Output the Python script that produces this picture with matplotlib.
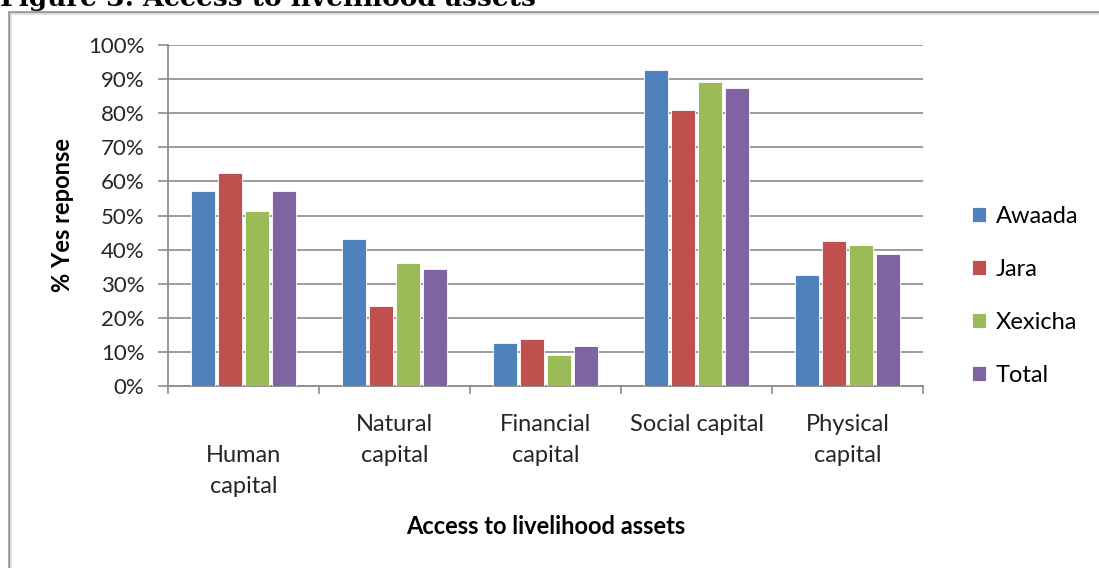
import matplotlib
matplotlib.use("Agg")
import matplotlib.pyplot as plt
import numpy as np
from matplotlib.patches import Rectangle

plt.rcParams['font.family'] = ['Lato', 'DejaVu Sans']

categories = ['\nHuman\ncapital', 'Natural\ncapital', 'Financial\ncapital',
              'Social capital', 'Physical\ncapital']
series = ['Awaada', 'Jara', 'Xexicha', 'Total']
awaada = [57.2, 43.0, 12.7, 92.7, 32.6]
jara = [62.6, 23.5, 13.7, 80.9, 42.6]
xexicha = [51.3, 36.0, 9.1, 89.1, 41.3]
total = [57.2, 34.2, 11.7, 87.3, 38.6]
colors = ['#4F81BD', '#C0504D', '#9BBB59', '#8064A2']

W, H = 1099, 568
fig = plt.figure(figsize=(W / 100, H / 100), dpi=100)

# chart border (top and left edges only show)
x0, y0 = 9 / W, 1 - 12 / H
fig.add_artist(Rectangle((x0, -0.1), 1.2, y0 + 0.1, transform=fig.transFigure,
                         fill=False, edgecolor='#8f8f8f', linewidth=1.8))
fig.add_artist(Rectangle((x0 + 2 / W, -0.1), 1.2, y0 + 0.1 - 2 / H,
                         transform=fig.transFigure, fill=False,
                         edgecolor='#dedede', linewidth=1.5))

fig.text(0.0, 1 - 6 / H, 'Figure 3: Access to livelihood assets',
         family='DejaVu Serif', fontweight='bold', fontsize=19,
         va='baseline', ha='left', color='black')

left, right = 168 / W, 923 / W
bottom, top = 1 - 386 / H, 1 - 45 / H
ax = fig.add_axes([left, bottom, right - left, top - bottom])

x = np.arange(len(categories))
pitch = 0.179
width = 0.163
for i, (name, vals) in enumerate(zip(series, [awaada, jara, xexicha, total])):
    ax.bar(x + (i - 1.5) * pitch, np.array(vals) / 100, width,
           color=colors[i], label=name, zorder=3,
           edgecolor='white', linewidth=0.6)

ax.set_xlim(-0.5, len(categories) - 0.5)
ax.set_ylim(0, 1)
ax.set_yticks(np.arange(0, 1.01, 0.1))
ax.set_yticklabels(['%d%%' % v for v in range(0, 101, 10)])
ax.yaxis.grid(True, color='#959595', linewidth=1.3, zorder=0)

# category labels sit between boundary ticks
ax.set_xticks(np.arange(-0.5, len(categories), 1))
ax.set_xticklabels([])
ax.set_xticks(x, minor=True)
ax.set_xticklabels(categories, minor=True, fontsize=17, linespacing=1.6,
                   va='top', color='#262626')
ax.tick_params(axis='x', which='minor', length=0, pad=20)
ax.tick_params(axis='x', which='major', length=6, color='#8c8c8c', width=1.2)
ax.tick_params(axis='y', length=7, color='#8c8c8c', width=1.2, pad=10,
               labelsize=16, labelcolor='#262626')

for s in ['top', 'right']:
    ax.spines[s].set_visible(False)
for s in ['left', 'bottom']:
    ax.spines[s].set_color('#8c8c8c')
    ax.spines[s].set_linewidth(1.3)

ax.set_ylabel('% Yes reponse', fontsize=17, fontweight='bold')
ax.yaxis.set_label_coords(-94 / ((right - left) * W), 0.5)
ax.set_xlabel('Access to livelihood assets', fontsize=17, fontweight='bold')
ax.xaxis.set_label_coords(0.5, -(527 - 386) / ((top - bottom) * H))
ax.xaxis.label.set_va('center')

ax.legend(loc='center left', bbox_to_anchor=(951 / W, 1 - 296 / H),
          bbox_transform=fig.transFigure, frameon=False, fontsize=17,
          handlelength=0.6, handleheight=0.6, handletextpad=0.4,
          labelspacing=1.35)

fig.savefig('out.png', dpi=100)
